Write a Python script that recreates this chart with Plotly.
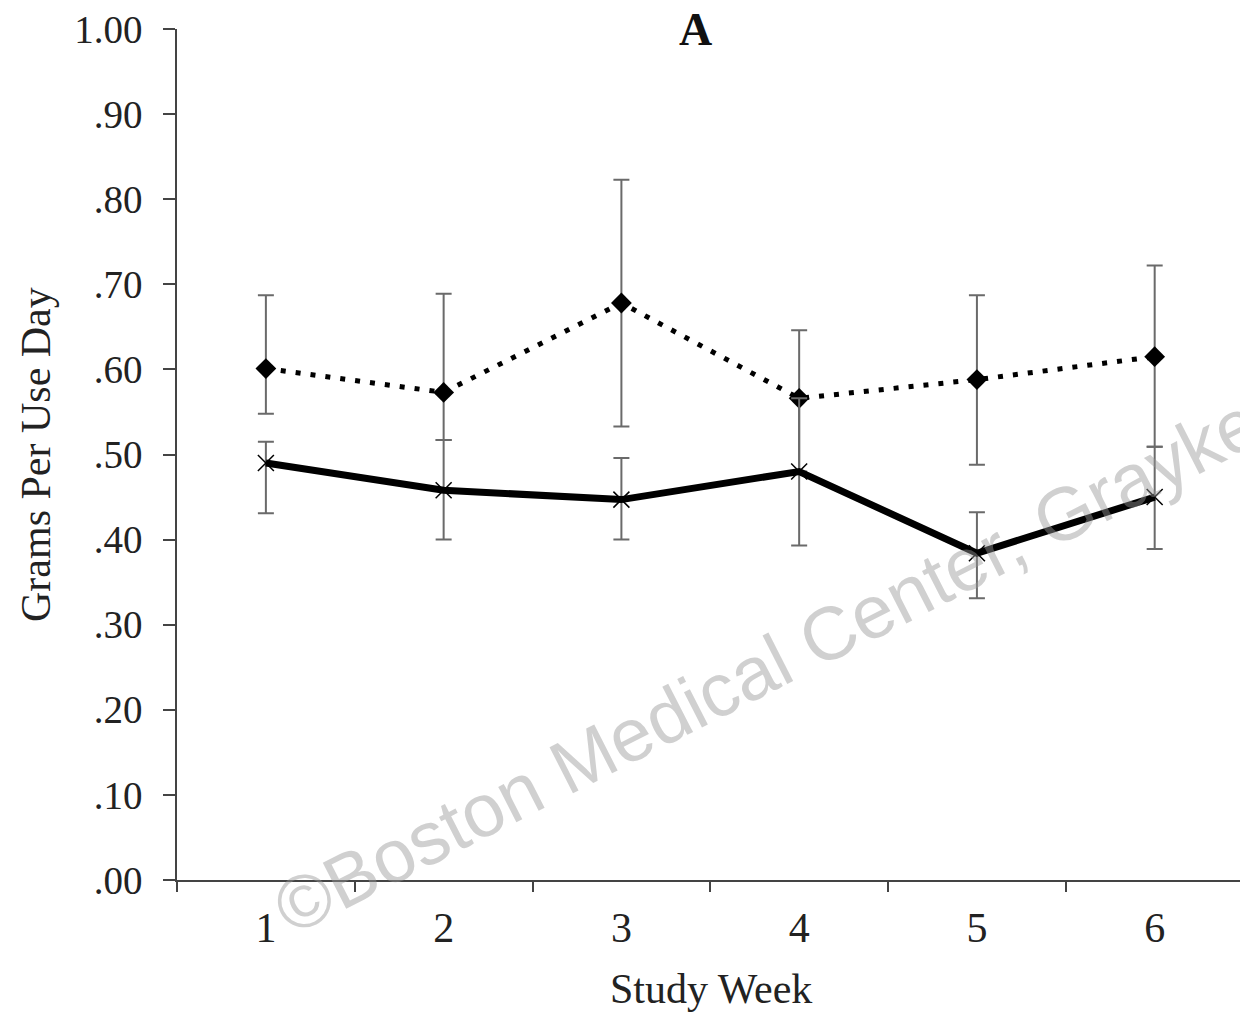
import plotly.graph_objects as go

weeks = ["1", "2", "3", "4", "5", "6"]

dotted_mean = [0.601, 0.573, 0.678, 0.566, 0.588, 0.615]
dotted_upper = [0.687, 0.689, 0.823, 0.646, 0.687, 0.722]
dotted_lower = [0.548, 0.517, 0.533, 0.480, 0.488, 0.509]

solid_mean = [0.490, 0.458, 0.447, 0.480, 0.384, 0.450]
solid_upper = [0.515, 0.517, 0.496, 0.566, 0.432, 0.509]
solid_lower = [0.431, 0.400, 0.400, 0.393, 0.331, 0.389]

y_tickvals = [0.0, 0.1, 0.2, 0.3, 0.4, 0.5, 0.6, 0.7, 0.8, 0.9, 1.0]
y_ticktext = [".00", ".10", ".20", ".30", ".40", ".50", ".60", ".70", ".80", ".90", "1.00"]

title_text = "A"
x_title = "Study Week"
y_title = "Grams Per Use Day"
watermark = "©Boston Medical Center, Grayken"

err_color = "#6a6a6a"
serif = "Liberation Serif, Times New Roman, serif"

def err(mean, upper, lower):
    return dict(
        type="data", symmetric=False,
        array=[u - m for u, m in zip(upper, mean)],
        arrayminus=[m - l for m, l in zip(mean, lower)],
        color=err_color, thickness=2, width=8,
    )

fig = go.Figure()
fig.add_trace(go.Scatter(
    x=weeks, y=dotted_mean, mode="lines+markers",
    line=dict(color="black", width=5, dash="5px,10px"),
    marker=dict(symbol="diamond", size=16, color="black"),
    error_y=err(dotted_mean, dotted_upper, dotted_lower),
    showlegend=False,
))
fig.add_trace(go.Scatter(
    x=weeks, y=solid_mean, mode="lines+markers",
    line=dict(color="black", width=7),
    marker=dict(symbol="x-thin-open", size=16, line=dict(color="#444", width=1.5)),
    error_y=err(solid_mean, solid_upper, solid_lower),
    showlegend=False,
))

L, R, T, B = 177, 0, 29, 132
W, H = 1240, 1012
pw, ph = W - L - R, H - T - B

def px_to_paper(x, y):
    return (x - L) / pw, (H - B - y) / ph

wx, wy = px_to_paper(785, 656)
tx, ty = px_to_paper(695, 29)
xtx, xty = px_to_paper(711, 989)
ytx, yty = px_to_paper(36, 455)

fig.update_layout(
    width=W, height=H,
    margin=dict(l=L, r=R, t=T, b=B, pad=0),
    paper_bgcolor="white", plot_bgcolor="white",
    font=dict(family=serif, color="#222"),
    xaxis=dict(
        type="category", range=[-0.5, 5.48], tickson="boundaries",
        showline=True, linecolor="#444", linewidth=1.5,
        ticks="outside", ticklen=10, tickwidth=1.5, tickcolor="#444",
        showgrid=False, zeroline=False,
        tickfont=dict(size=42, family=serif, color="#222"),
        ticklabelstandoff=10,
    ),
    yaxis=dict(
        range=[0, 1.0], tickvals=y_tickvals, ticktext=y_ticktext,
        showline=True, linecolor="#444", linewidth=1.5,
        ticks="outside", ticklen=12, tickwidth=1.5, tickcolor="#444",
        showgrid=False, zeroline=False,
        tickfont=dict(size=39, family=serif, color="#222"),
        ticklabelstandoff=13,
    ),
    annotations=[
        dict(text=title_text, xref="paper", yref="paper", x=tx, y=ty,
             xanchor="center", yanchor="middle", showarrow=False,
             font=dict(size=46, family=serif, color="#111", weight="bold")),
        dict(text=x_title, xref="paper", yref="paper", x=xtx, y=xty,
             xanchor="center", yanchor="middle", showarrow=False,
             font=dict(size=42, family=serif, color="#222")),
        dict(text=y_title, xref="paper", yref="paper", x=ytx, y=yty,
             xanchor="center", yanchor="middle", showarrow=False, textangle=-90,
             font=dict(size=42, family=serif, color="#222")),
        dict(text=watermark, xref="paper", yref="paper", x=wx, y=wy,
             xanchor="center", yanchor="middle", showarrow=False, textangle=-27,
             font=dict(size=75, family="Liberation Sans, Arial, sans-serif",
                       color="rgba(150,150,150,0.45)")),
    ],
)

fig.write_html("out.html")
